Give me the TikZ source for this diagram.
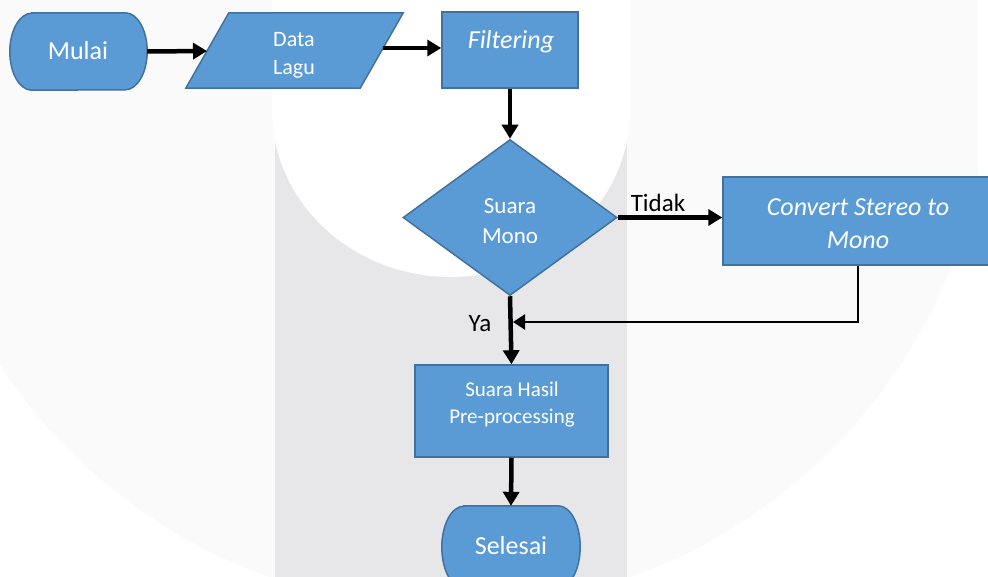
\documentclass[tikz,border=0pt]{standalone}
\usepackage{fontspec}
\setmainfont{Carlito}
\usetikzlibrary{arrows.meta,shapes.geometric}
\definecolor{boxfill}{HTML}{5B9BD5}
\definecolor{boxline}{HTML}{41719C}
\definecolor{shieldgray}{HTML}{FAFAFA}
\definecolor{stripgray}{HTML}{E7E7E9}
\begin{document}
\begin{tikzpicture}[x=1pt,y=-1pt,
  shp/.style={fill=boxfill, draw=boxline, line width=1.5pt, inner sep=0pt},
  procbox/.style={shp, rectangle},
  holder/.style={rectangle, draw=none, inner sep=0pt},
  txt/.style={text=white, align=center, inner sep=0pt},
  lbl/.style={text=black, inner sep=0pt, anchor=base, font=\fontsize{25}{30}\selectfont},
  flow/.style={line width=4.5pt, -{Triangle[length=14pt,width=16pt]}},
  backflow/.style={line width=2pt, -{Triangle[length=12pt,width=15pt]}}]
\useasboundingbox (0,0) rectangle (988,577);
\begin{scope}
\clip (0,0) rectangle (988,577);
% background watermark
\fill[white] (0,0) rectangle (988,577);
\begin{scope}
\clip (-78,-10) rectangle (978,600);
\fill[shieldgray] (-78,-10) rectangle (978,70);
\fill[shieldgray] (450,70) circle[radius=538pt];
\end{scope}
\fill[stripgray] (275,100) rectangle (627,577);
\fill[white] (272,-10) -- (272,110) arc[start angle=180, end angle=360, x radius=179pt, y radius=167pt] -- (630,-10) -- cycle;

% shapes
\node[holder, minimum width=137pt, minimum height=77pt] (mulai) at (78.5,51.5) {};
\draw[shp] ([xshift=22pt]mulai.north west) -- ([xshift=-22pt]mulai.north east)
  arc[start angle=90, end angle=-90, x radius=22pt, y radius=38.5pt]
  -- ([xshift=22pt]mulai.south west)
  arc[start angle=270, end angle=90, x radius=22pt, y radius=38.5pt] -- cycle;
\node[holder, minimum width=217pt, minimum height=75pt] (data) at (294.5,50.5) {};
\draw[shp] ([xshift=43pt]data.north west) -- (data.north east) -- ([xshift=-43pt]data.south east) -- (data.south west) -- cycle;
\coordinate (datain) at (207,51);
\coordinate (dataout) at (383,48);
\node[procbox, minimum width=136pt, minimum height=76pt] (filt) at (510,50) {};
\node[diamond, shp, aspect=1.37, minimum width=214pt, minimum height=156pt] (dia) at (510,217.5) {};
\node[procbox, minimum width=270pt, minimum height=88pt] (conv) at (858,221) {};
\node[procbox, minimum width=193pt, minimum height=92pt] (hasil) at (511.5,411) {};
\node[holder, minimum width=138pt, minimum height=82pt] (selesai) at (511,547) {};
\draw[shp] ([xshift=22pt]selesai.north west) -- ([xshift=-22pt]selesai.north east)
  arc[start angle=90, end angle=-90, x radius=22pt, y radius=41pt]
  -- ([xshift=22pt]selesai.south west)
  arc[start angle=270, end angle=90, x radius=22pt, y radius=41pt] -- cycle;

% texts
\node[txt, font=\fontsize{26}{31}\selectfont] (mulait) at (78,51) {Mulai};
\node[txt, font=\fontsize{22}{28}\selectfont] (datat) at (294,55) {Data\\Lagu};
\node[txt, font=\fontsize{26}{31}\selectfont\itshape] (filtt) at (511,42) {Filtering};
\node[txt, font=\fontsize{23}{30}\selectfont] (diat) at (510,221) {Suara\\Mono};
\node[txt, font=\fontsize{26}{33}\selectfont\itshape] (convt) at (858,224) {Convert Stereo to\\Mono};
\node[txt, font=\fontsize{21}{27}\selectfont] (hasilt) at (512,405) {Suara Hasil\\Pre-processing};
\node[txt, font=\fontsize{26}{31}\selectfont] (selesait) at (511,546) {Selesai};

% connectors
\draw[flow] (mulai.east) -- (datain);
\draw[flow] (dataout) -- (dataout -| filt.west);
\draw[flow] (filt.south) -- (dia.north);
\draw[flow] (dia.east) -- (dia.east -| conv.west);
\node[lbl] (tidak) at (658,212) {Tidak};
\coordinate (merge) at (513,322);
\draw[flow] (dia.south) -- (hasil.north);
\draw[backflow] (conv.south) |- (merge);
\node[lbl] (ya) at (480,332) {Ya};
\draw[flow] (hasil.south) -- (selesai.north);
\end{scope}
\end{tikzpicture}
\end{document}
